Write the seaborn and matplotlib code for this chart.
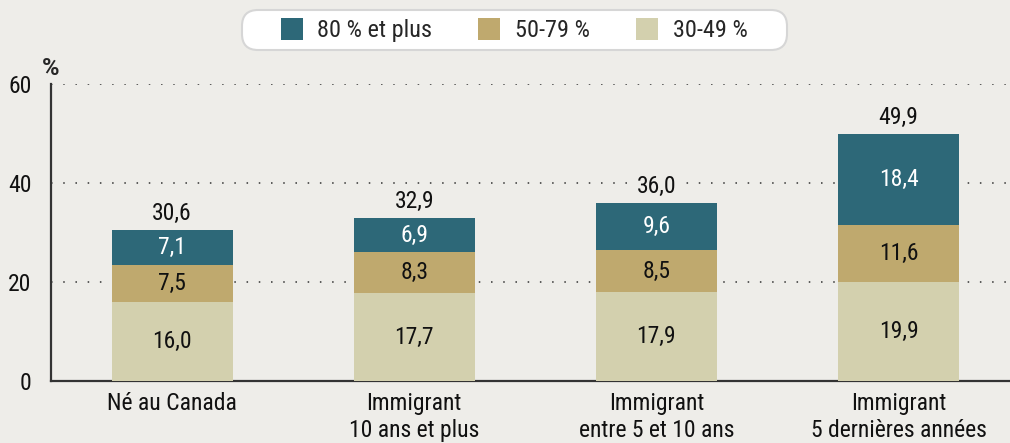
import numpy as np
import pandas as pd
import matplotlib.pyplot as plt
import seaborn as sns
from matplotlib.patches import Patch, FancyBboxPatch
from matplotlib.transforms import IdentityTransform
from matplotlib import font_manager

# Data
categories = ['Né au Canada', 'Immigrant\n10 ans et plus',
              'Immigrant\nentre 5 et 10 ans', 'Immigrant\n5 dernières années']
low = [16.0, 17.7, 17.9, 19.9]     # 30-49 %
mid = [7.5, 8.3, 8.5, 11.6]        # 50-79 %
high = [7.1, 6.9, 9.6, 18.4]       # 80 % et plus
totals = [30.6, 32.9, 36.0, 49.9]
series_names = ['80 % et plus', '50-79 %', '30-49 %']

colors = {'80 % et plus': '#2d6878', '50-79 %': '#bfa96e', '30-49 %': '#d3d0ae'}
bg = '#eeede9'

sns.set_style('white')
installed = {f.name for f in font_manager.fontManager.ttflist}
narrow = [n for n in ['Liberation Sans Narrow', 'Roboto Condensed', 'Arial Narrow',
                      'Liberation Sans'] if n in installed]
plt.rcParams['font.family'] = narrow[:1] + ['DejaVu Sans']

fig = plt.figure(figsize=(10.1, 4.43), dpi=100, facecolor=bg)
ax = fig.add_axes([51 / 1010, 62 / 443, 959 / 1010, 297 / 443])
ax.set_facecolor(bg)

df = pd.DataFrame({'cat': categories, 'low': low, 'mid': mid, 'high': high})
bottom_mid = df['low']
bottom_high = df['low'] + df['mid']

kw = dict(width=0.5, saturation=1, ax=ax, zorder=3, edgecolor='none', linewidth=0)
sns.barplot(data=df, x='cat', y='low', color=colors['30-49 %'], **kw)
sns.barplot(data=df, x='cat', y='mid', bottom=bottom_mid, color=colors['50-79 %'], **kw)
sns.barplot(data=df, x='cat', y='high', bottom=bottom_high, color=colors['80 % et plus'], **kw)

fmt = lambda v: f'{v:.1f}'.replace('.', ',')
for i in range(len(categories)):
    ax.text(i, low[i] / 2, fmt(low[i]), ha='center', va='center', fontsize=17, color='#111111', zorder=4)
    ax.text(i, low[i] + mid[i] / 2, fmt(mid[i]), ha='center', va='center', fontsize=17, color='#111111', zorder=4)
    ax.text(i, low[i] + mid[i] + high[i] / 2, fmt(high[i]), ha='center', va='center', fontsize=17, color='white', zorder=4)
    ax.text(i, totals[i] + 1.0, fmt(totals[i]), ha='center', va='bottom', fontsize=17, color='#111111', zorder=4,
            bbox=dict(facecolor=bg, edgecolor='none', pad=1))

ax.set_xlim(-0.5, 3.46)
ax.set_ylim(0, 60)
ax.set_yticks([0, 20, 40, 60])
ax.yaxis.grid(True, linestyle=(0, (1, 7)), color='#333333', linewidth=1.1, zorder=0)
ax.xaxis.grid(False)
ax.set_axisbelow(True)
for s in ['top', 'right']:
    ax.spines[s].set_visible(False)
for s in ['left', 'bottom']:
    ax.spines[s].set_color('#333333')
    ax.spines[s].set_linewidth(1.6)
ax.tick_params(axis='both', length=0, labelsize=17, colors='#111111', pad=8)
ax.tick_params(axis='y', pad=14)
ax.set_xlabel('')
ax.set_ylabel('')
ax.text(-0.01, 1.012, '%', transform=ax.transAxes, fontsize=17, fontweight='bold',
        family=['Roboto', 'DejaVu Sans'], ha='left', va='bottom')

# legend: no frame of its own, a pill-shaped white box is drawn behind it
handles = [Patch(facecolor=colors[n], edgecolor='none') for n in series_names]
leg = fig.legend(handles, series_names, loc='center', bbox_to_anchor=(0.509, 0.932),
                 ncol=3, frameon=False, fontsize=17.5, handlelength=0.9, handleheight=1.0,
                 columnspacing=1.9, handletextpad=0.6)
box = FancyBboxPatch((242, 443 - 50), 545, 40, boxstyle='round,pad=0,rounding_size=16',
                     transform=IdentityTransform(), facecolor='white', edgecolor='#d6d6d6',
                     linewidth=1.5, zorder=1)
fig.add_artist(box)

fig.savefig('out.png', dpi=100, facecolor=bg)
